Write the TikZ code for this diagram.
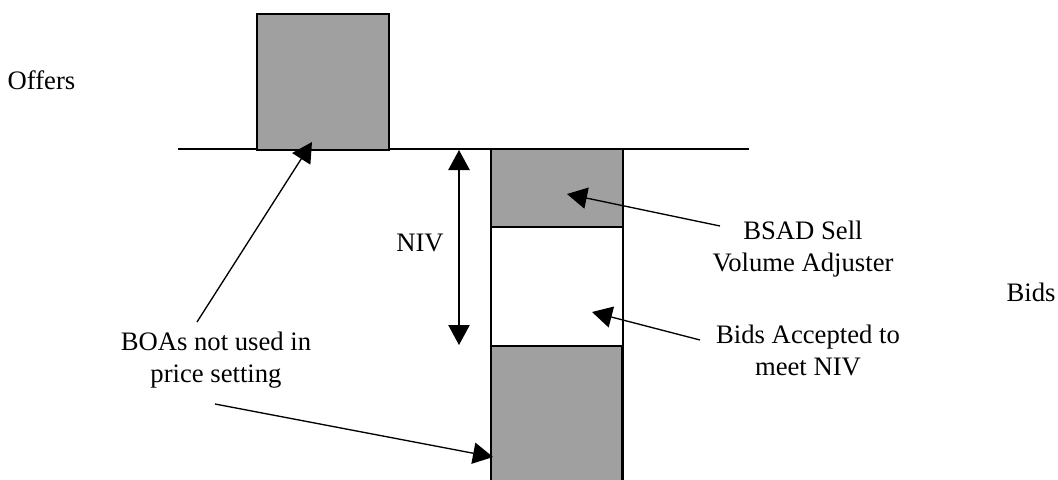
\documentclass[tikz,border=0pt]{standalone}
\usepackage{fontspec}
\setmainfont{Liberation Serif}
\usetikzlibrary{arrows.meta}
\definecolor{boxgray}{RGB}{160,160,160}
\tikzset{
  px/.style={x=0.75pt,y=-0.75pt},
  line/.style={line width=1pt,draw=black},
  graybox/.style={line width=1pt,draw=black,fill=boxgray},
  pointer/.style={line width=1pt,-{Triangle[length=15pt,width=16pt]}},
  dblpointer/.style={line width=1pt,{Triangle[length=15pt,width=16pt]}-{Triangle[length=15pt,width=16pt]}},
  lbl/.style={inner sep=0pt,anchor=base,align=center,font=\fontsize{20}{24}\selectfont}
}
\begin{document}
\begin{tikzpicture}[px]
\useasboundingbox (0,0) rectangle (1058,479);
% baseline
\coordinate (hl) at (178,149);
\coordinate (hr) at (749,149);
\draw[line] (hl) -- (hr);
% offer box
\draw[graybox] (257,14) rectangle (389,150);
% column
\coordinate (cl) at (491,149);
\coordinate (cr) at (623,149);
\coordinate (clb) at (491,482);
\coordinate (crb) at (623,482);
\draw[line] (cl) -- (clb);
\draw[line] (cr) -- (crb);
\draw[graybox] (491,149) rectangle (623,227);
\draw[graybox] (491,346) rectangle (622,484);
% labels (base anchor = baseline of last line)
\node[lbl] (offers) at (41.5,89) {Offers};
\node[lbl] (bids) at (1031,301) {Bids};
\node[lbl] (niv) at (420,251) {NIV};
\node[lbl] (bsad) at (803,271) {BSAD Sell\\Volume Adjuster};
\node[lbl] (acc) at (808,375) {Bids Accepted to\\meet NIV};
\node[lbl] (boa) at (216,382) {BOAs not used in\\price setting};
% arrow ends
\coordinate (nivtop) at (459,150);
\coordinate (nivbot) at (459,345);
\coordinate (bsadtail) at (720,226);
\coordinate (bsadtip) at (567,194);
\coordinate (acctail) at (700,340);
\coordinate (acctip) at (592,312);
\coordinate (boatail1) at (197,322);
\coordinate (boatip1) at (312,142);
\coordinate (boatail2) at (215,404);
\coordinate (boatip2) at (493,457);
% arrows
\draw[dblpointer] (nivtop) -- (nivbot);
\draw[pointer] (bsadtail) -- (bsadtip);
\draw[pointer] (acctail) -- (acctip);
\draw[pointer] (boatail1) -- (boatip1);
\draw[pointer] (boatail2) -- (boatip2);
\end{tikzpicture}
\end{document}
